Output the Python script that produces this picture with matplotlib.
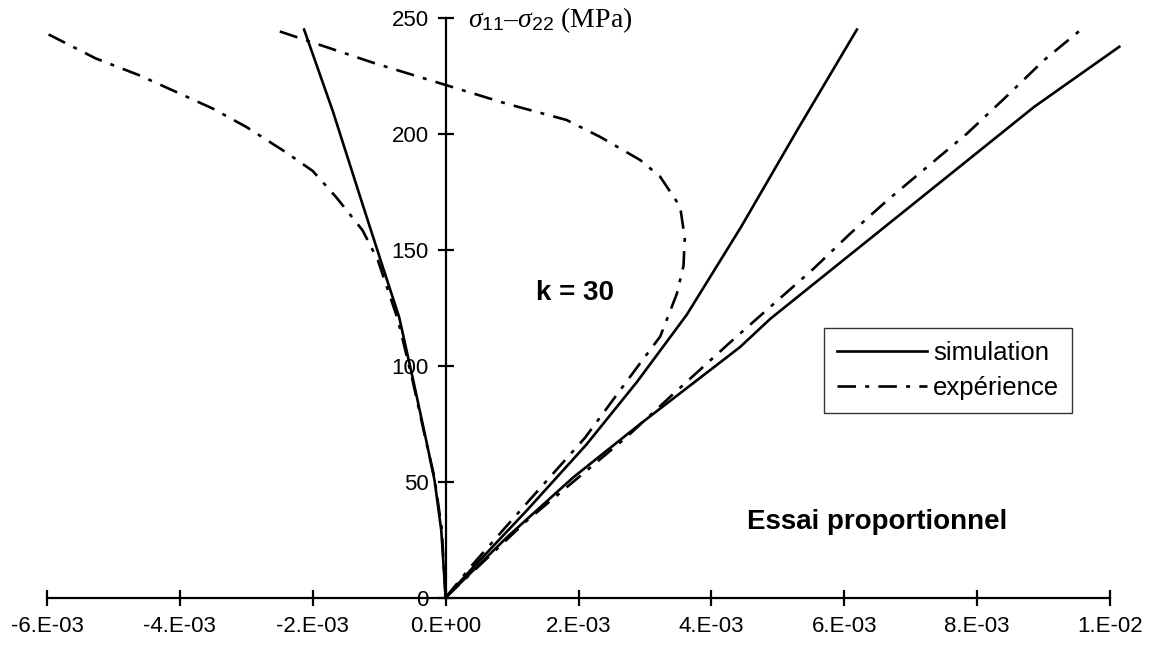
import matplotlib
matplotlib.use("Agg")
import matplotlib.pyplot as plt

plt.rcParams['font.family'] = ['Liberation Sans', 'DejaVu Sans']
plt.rcParams['mathtext.fontset'] = 'custom'
plt.rcParams['mathtext.rm'] = 'Liberation Serif'
plt.rcParams['mathtext.it'] = 'Liberation Serif:italic'
plt.rcParams['mathtext.sf'] = 'Liberation Sans'

# strains are given in units of 1E-03, stresses in MPa
sim_left_x = [0, -0.065, -0.166, -0.27, -0.49, -0.70, -0.946, -1.27, -1.70, -2.13]
sim_left_y = [0, 28.8, 50.4, 64.8, 94, 121, 142.6, 171.4, 210, 245]

sim_steep_x = [0, 0.41, 1.22, 2.12, 2.88, 3.63, 4.45, 5.30, 6.19]
sim_steep_y = [0, 12.9, 37.5, 66, 93, 122, 160, 202, 245]

sim_flat_x = [0, 0.92, 1.92, 2.93, 4.43, 4.89, 8.86, 10.14]
sim_flat_y = [0, 25.9, 51.8, 74.9, 108, 120.3, 211.7, 237.6]

exp_left_x = [0, -0.06, -0.17, -0.3, -0.5, -0.72, -1.02, -1.25, -1.65, -2.0, -2.4,
              -3.0, -3.51, -4.01, -4.62, -5.27, -6.05]
exp_left_y = [0, 30, 52, 68, 94, 120, 145.5, 158.4, 172.8, 184, 192,
              203, 211, 217.5, 225.4, 232.6, 244]

exp_k30_x = [0, 0.4, 1.2, 2.1, 2.9, 3.23, 3.48, 3.58, 3.6, 3.53, 3.23, 2.93, 2.32, 1.82,
             0.92, 0.16, -1.07, -2.58]
exp_k30_y = [0, 14, 40, 69, 100, 112.6, 131, 143, 155, 168.6, 181.5, 188.7, 198.8, 206,
             213, 219.7, 230.5, 245]

exp_flat_x = [0, 1.22, 2.72, 3.43, 4.28, 4.99, 5.54, 6.09, 6.65, 7.25, 7.85, 8.41, 9.01, 9.56]
exp_flat_y = [0, 33.1, 69.1, 87.9, 110, 128, 141.9, 157, 171.4, 185.8, 200.2, 215.3, 231.9, 244.9]

x_ticks = [-6, -4, -2, 0, 2, 4, 6, 8, 10]
x_tick_labels = ['-6.E-03', '-4.E-03', '-2.E-03', '0.E+00', '2.E-03', '4.E-03',
                 '6.E-03', '8.E-03', '1.E-02']
y_ticks = [0, 50, 100, 150, 200, 250]

fig = plt.figure(figsize=(11.53, 6.48), dpi=100)
ax = fig.add_axes([47 / 1153, (648 - 597.5) / 648, 1063 / 1153, 579.5 / 648])
ax.set_xlim(-6, 10)
ax.set_ylim(0, 250)

dashdot = (0, (7, 3.5, 1.5, 3.5))
lw = 1.9
sim_line, = ax.plot(sim_left_x, sim_left_y, color='black', lw=lw, clip_on=False)
ax.plot(sim_steep_x, sim_steep_y, color='black', lw=lw, clip_on=False)
ax.plot(sim_flat_x, sim_flat_y, color='black', lw=lw, clip_on=False)
exp_line, = ax.plot(exp_left_x, exp_left_y, color='black', lw=lw, ls=dashdot, clip_on=False)
ax.plot(exp_k30_x, exp_k30_y, color='black', lw=lw, ls=dashdot, clip_on=False)
ax.plot(exp_flat_x, exp_flat_y, color='black', lw=lw, ls=dashdot, clip_on=False)

# axes crossing at the origin
ax.spines['left'].set_position(('data', 0))
ax.spines['bottom'].set_position(('data', 0))
ax.spines['top'].set_visible(False)
ax.spines['right'].set_visible(False)
for s in ['left', 'bottom']:
    ax.spines[s].set_linewidth(1.6)

ax.set_xticks(x_ticks)
ax.set_xticklabels(x_tick_labels)
ax.set_yticks(y_ticks)
ax.tick_params(direction='inout', length=12, width=1.6, labelsize=16)
ax.tick_params(axis='x', pad=7)
ax.tick_params(axis='y', pad=6)

ax.text(0.33, 249, r'$\sigma_{\mathsf{11}}$–$\sigma_{\mathsf{22}}$ (MPa)',
        fontsize=20, family='Liberation Serif', ha='left', va='center')
ax.text(1.95, 131.4, 'k = 30', fontsize=20, fontweight='bold', ha='center', va='center')
ax.text(6.49, 32.6, 'Essai proportionnel', fontsize=20, fontweight='bold',
        ha='center', va='center')

leg = ax.legend([sim_line, exp_line], ['simulation', 'expérience'],
                loc='upper left', bbox_to_anchor=(824 / 1153, 1 - 328 / 648),
                bbox_transform=fig.transFigure, fontsize=18.5, frameon=True,
                fancybox=False, handlelength=3.5, handletextpad=0.25,
                borderpad=0.5, labelspacing=0.45, borderaxespad=0)
leg.get_frame().set_edgecolor('black')
leg.get_frame().set_linewidth(1.0)

fig.savefig('out.png', dpi=100)
